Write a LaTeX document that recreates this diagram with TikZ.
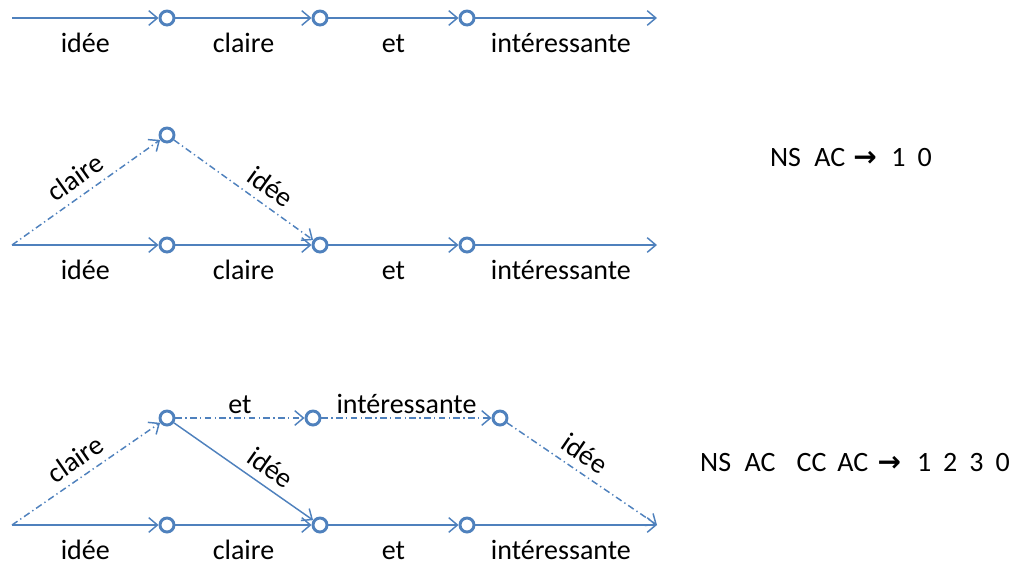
\documentclass[tikz,border=0pt]{standalone}
\usepackage{fontspec}
\setmainfont{Carlito}
\newfontfamily\symfont{DejaVu Sans}
\usetikzlibrary{arrows.meta}
\definecolor{lblue}{RGB}{79,129,189}

\begin{document}
\begin{tikzpicture}[x=0.75pt, y=-0.75pt,
  every node/.style={font=\fontsize{21}{25}\selectfont},
  state/.style={circle, draw=lblue, line width=2.2pt, minimum size=10.5pt, inner sep=0pt},
  lnk/.style={draw=lblue, line width=1.1pt, -{Straight Barb[length=6.5pt, width=11pt]}},
  alt/.style={lnk, dash pattern=on 5pt off 2.5pt on 1pt off 2.5pt},
  lbl/.style={anchor=base, yshift=-25.5pt, inner sep=1pt},
  slab/.style={sloped, above=5pt, inner sep=1pt}
]
\useasboundingbox (0,0) rectangle (1026,565);

% main line of each lattice
\foreach \r/\y in {1/18, 2/245, 3/525} {
  \coordinate (s\r) at (12,\y);
  \node[state] (a\r) at (167,\y) {};
  \node[state] (b\r) at (320,\y) {};
  \node[state] (c\r) at (467,\y) {};
  \coordinate (e\r) at (657,\y);
  \draw[lnk] (s\r) -- node[lbl] {idée} (a\r);
  \draw[lnk] (a\r) -- node[lbl] {claire} (b\r);
  \draw[lnk] (b\r) -- node[lbl] {et} (c\r);
  \draw[lnk] (c\r) -- node[lbl, xshift=-4pt] {intéressante} (e\r);
}

% second lattice
\node[state] (u2) at (167,135) {};
\draw[alt] (s2) -- node[pos=0.5, slab] {claire} (u2);
\draw[alt] (u2) -- node[pos=0.62, slab] {idée} (b2);
\node (t2) at (851,158) {NS\hspace{10pt}AC\hspace{6pt}{\symfont\bfseries →}\hspace{11pt}1\hspace{9pt}0};

% third lattice
\node[state] (u3) at (167,418) {};
\node[state] (v3) at (313,418) {};
\node[state] (w3) at (500,418) {};
\draw[alt] (s3) -- node[pos=0.5, slab] {claire} (u3);
\draw[lnk] (u3) -- node[pos=0.62, slab] {idée} (b3);
\draw[alt] (u3) -- node[above=2pt, inner sep=1pt] {et} (v3);
\draw[alt] (v3) -- node[above=2pt, inner sep=1pt] {intéressante} (w3);
\draw[alt] (w3) -- node[pos=0.45, slab] {idée} (e3);
\node (t3) at (855,463) {NS\hspace{10pt}AC\hspace{16pt}CC\hspace{8pt}AC\hspace{7pt}{\symfont\bfseries →}\hspace{12pt}1\hspace{9pt}2\hspace{9pt}3\hspace{9pt}0};
\end{tikzpicture}
\end{document}
